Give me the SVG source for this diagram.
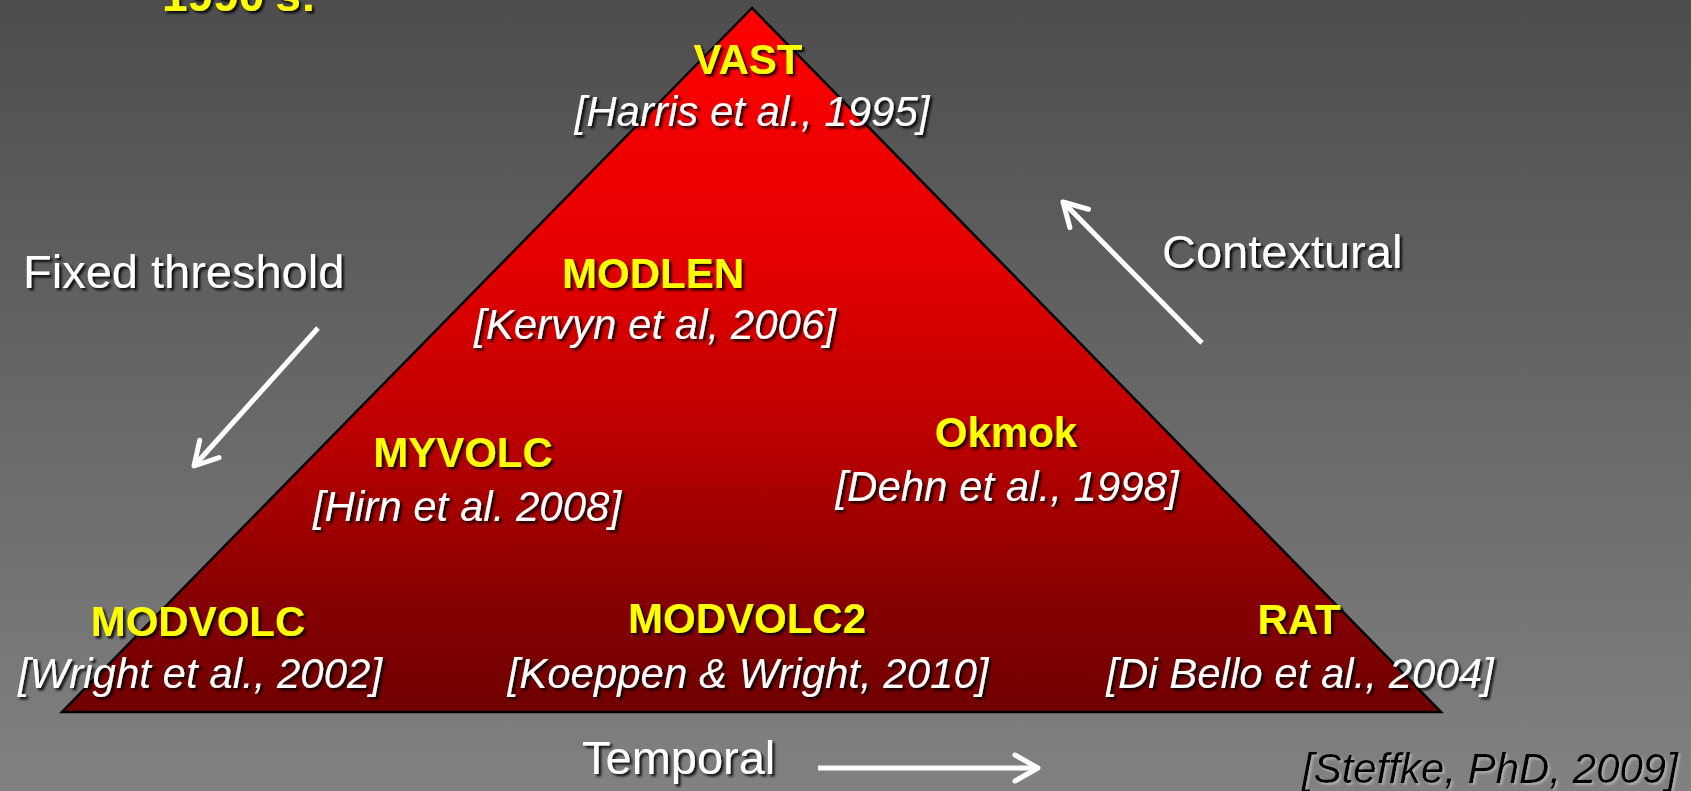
<svg xmlns="http://www.w3.org/2000/svg" width="1691" height="791" viewBox="0 0 1691 791">
  <defs>
    <linearGradient id="bg" x1="0" y1="0" x2="0" y2="1">
      <stop offset="0" stop-color="#4d4d4d"/>
      <stop offset="1" stop-color="#818181"/>
    </linearGradient>
    <linearGradient id="tri" x1="0" y1="0" x2="0" y2="1">
      <stop offset="0" stop-color="#ff0000"/>
      <stop offset="0.36" stop-color="#e40000"/>
      <stop offset="0.61" stop-color="#bb0000"/>
      <stop offset="0.84" stop-color="#860000"/>
      <stop offset="1" stop-color="#700000"/>
    </linearGradient>
    <filter id="sh" x="-10%" y="-30%" width="120%" height="160%">
      <feDropShadow dx="2.5" dy="2.5" stdDeviation="1.2" flood-color="#000" flood-opacity="0.85"/>
    </filter>
    <filter id="shw" x="-10%" y="-30%" width="120%" height="160%">
      <feDropShadow dx="2" dy="2" stdDeviation="1" flood-color="#fff" flood-opacity="0.35"/>
    </filter>
    <marker id="chev" markerUnits="userSpaceOnUse" viewBox="-30 -20 40 40" markerWidth="40" markerHeight="40" refX="0" refY="0" orient="auto" overflow="visible">
      <path d="M-23,-13 L0,0 L-23,13" fill="none" stroke="#fff" stroke-width="5" stroke-linecap="round" stroke-linejoin="round"/>
    </marker>
    <style>
      .name { font-family: "Liberation Sans", Arial, sans-serif; font-weight: bold; font-size: 42px; fill: #ffff00; text-anchor: middle; }
      .ref { font-family: "Liberation Sans", Arial, sans-serif; font-style: italic; font-size: 42px; fill: #ffffff; text-anchor: middle; }
      .lbl { font-family: "Liberation Sans", Arial, sans-serif; font-size: 47px; fill: #ffffff; }
      .arrow { fill: none; stroke: #fff; stroke-width: 5; marker-end: url(#chev); }
    </style>
  </defs>

  <rect x="0" y="0" width="1691" height="791" fill="url(#bg)"/>

  <text x="162" y="11" filter="url(#sh)" style="font-family:'Liberation Sans',Arial,sans-serif;font-weight:bold;font-size:46px;fill:#ffff00">1990's:</text>

  <g id="pyramid">
    <polygon points="752,8 62,712 1441,712" fill="url(#tri)" stroke="#000" stroke-width="2.5"/>
  </g>

  <g id="connectors">
    <line class="arrow" x1="318" y1="328" x2="194" y2="466"/>
    <line class="arrow" x1="1202" y1="343" x2="1063" y2="202"/>
    <line class="arrow" x1="818" y1="768" x2="1038" y2="768"/>
  </g>

  <g id="node-vast" filter="url(#sh)">
    <text class="name" x="748" y="74">VAST</text>
    <text class="ref" x="752" y="126">[Harris et al., 1995]</text>
  </g>
  <g id="node-modlen" filter="url(#sh)">
    <text class="name" x="653" y="288">MODLEN</text>
    <text class="ref" x="655" y="339">[Kervyn et al, 2006]</text>
  </g>
  <g id="node-myvolc" filter="url(#sh)">
    <text class="name" x="463" y="467">MYVOLC</text>
    <text class="ref" x="467" y="521">[Hirn et al. 2008]</text>
  </g>
  <g id="node-okmok" filter="url(#sh)">
    <text class="name" x="1006" y="447">Okmok</text>
    <text class="ref" x="1007" y="501">[Dehn et al., 1998]</text>
  </g>
  <g id="node-modvolc" filter="url(#sh)">
    <text class="name" x="198" y="636">MODVOLC</text>
    <text class="ref" x="200" y="688">[Wright et al., 2002]</text>
  </g>
  <g id="node-modvolc2" filter="url(#sh)">
    <text class="name" x="747" y="633">MODVOLC2</text>
    <text class="ref" x="748" y="688">[Koeppen &amp; Wright, 2010]</text>
  </g>
  <g id="node-rat" filter="url(#sh)">
    <text class="name" x="1299" y="634">RAT</text>
    <text class="ref" x="1300" y="688">[Di Bello et al., 2004]</text>
  </g>

  <g id="label-fixed" filter="url(#sh)">
    <text class="lbl" x="23" y="288">Fixed threshold</text>
  </g>
  <g id="label-contextural" filter="url(#sh)">
    <text class="lbl" x="1162" y="268">Contextural</text>
  </g>
  <g id="label-temporal" filter="url(#sh)">
    <text class="lbl" x="582" y="774">Temporal</text>
  </g>
  <g id="label-source" filter="url(#shw)">
    <text x="1302" y="783" style="font-family:'Liberation Sans',Arial,sans-serif;font-style:italic;font-size:42px;fill:#000">[Steffke, PhD, 2009]</text>
  </g>
</svg>
